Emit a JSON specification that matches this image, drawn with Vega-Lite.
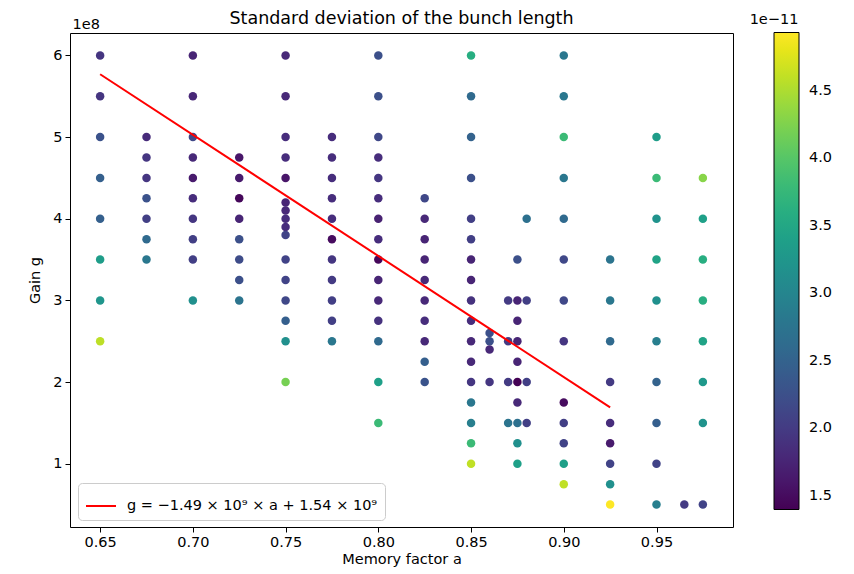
{
  "$schema": "https://vega.github.io/schema/vega-lite/v6.json",
  "width": 663,
  "height": 494,
  "autosize": {"type": "none"},
  "padding": {"left": 70, "top": 33, "right": 121, "bottom": 47},
  "background": "white",
  "title": {
    "text": "Standard deviation of the bunch length",
    "fontSize": 17.5,
    "fontWeight": "normal",
    "color": "black",
    "anchor": "middle",
    "frame": "group",
    "offset": -14
  },
  "config": {
    "font": "DejaVu Sans",
    "view": {"stroke": "black", "strokeWidth": 1},
    "axis": {
      "grid": false,
      "domain": false,
      "tickColor": "black",
      "tickSize": 5,
      "tickWidth": 1,
      "labelColor": "black",
      "labelFontSize": 14.5,
      "labelPadding": 3,
      "titleColor": "black",
      "titleFontSize": 14.5,
      "titleFontWeight": "normal"
    },
    "legend": {
      "labelColor": "black",
      "labelFontSize": 14.5,
      "titleColor": "black",
      "titleFontSize": 14.5,
      "titleFontWeight": "normal"
    }
  },
  "layer": [
    {
      "data": {
        "values": [
          {"a": 0.65, "g": 600000000, "s": 1.93e-11},
          {"a": 0.65, "g": 550000000, "s": 1.93e-11},
          {"a": 0.65, "g": 500000000, "s": 2.28e-11},
          {"a": 0.65, "g": 450000000, "s": 2.46e-11},
          {"a": 0.65, "g": 400000000, "s": 2.46e-11},
          {"a": 0.65, "g": 350000000, "s": 3.35e-11},
          {"a": 0.65, "g": 300000000, "s": 3.25e-11},
          {"a": 0.65, "g": 250000000, "s": 4.58e-11},

          {"a": 0.675, "g": 500000000, "s": 1.82e-11},
          {"a": 0.675, "g": 475000000, "s": 1.95e-11},
          {"a": 0.675, "g": 450000000, "s": 1.95e-11},
          {"a": 0.675, "g": 425000000, "s": 2.28e-11},
          {"a": 0.675, "g": 400000000, "s": 2.05e-11},
          {"a": 0.675, "g": 375000000, "s": 2.6e-11},
          {"a": 0.675, "g": 350000000, "s": 2.8e-11},

          {"a": 0.7, "g": 600000000, "s": 1.75e-11},
          {"a": 0.7, "g": 550000000, "s": 1.78e-11},
          {"a": 0.7, "g": 500000000, "s": 2.15e-11},
          {"a": 0.7, "g": 475000000, "s": 1.8e-11},
          {"a": 0.7, "g": 450000000, "s": 1.65e-11},
          {"a": 0.7, "g": 425000000, "s": 1.85e-11},
          {"a": 0.7, "g": 400000000, "s": 1.95e-11},
          {"a": 0.7, "g": 375000000, "s": 2.05e-11},
          {"a": 0.7, "g": 350000000, "s": 2.05e-11},
          {"a": 0.7, "g": 300000000, "s": 3.15e-11},

          {"a": 0.725, "g": 475000000, "s": 1.6e-11},
          {"a": 0.725, "g": 450000000, "s": 1.65e-11},
          {"a": 0.725, "g": 425000000, "s": 1.45e-11},
          {"a": 0.725, "g": 400000000, "s": 1.75e-11},
          {"a": 0.725, "g": 375000000, "s": 2.25e-11},
          {"a": 0.725, "g": 350000000, "s": 2.2e-11},
          {"a": 0.725, "g": 325000000, "s": 2.25e-11},
          {"a": 0.725, "g": 300000000, "s": 2.75e-11},

          {"a": 0.75, "g": 600000000, "s": 1.8e-11},
          {"a": 0.75, "g": 550000000, "s": 1.8e-11},
          {"a": 0.75, "g": 500000000, "s": 1.85e-11},
          {"a": 0.75, "g": 475000000, "s": 1.85e-11},
          {"a": 0.75, "g": 450000000, "s": 1.6e-11},
          {"a": 0.75, "g": 420000000, "s": 1.75e-11},
          {"a": 0.75, "g": 410000000, "s": 1.8e-11},
          {"a": 0.75, "g": 400000000, "s": 1.85e-11},
          {"a": 0.75, "g": 390000000, "s": 1.85e-11},
          {"a": 0.75, "g": 380000000, "s": 2.1e-11},
          {"a": 0.75, "g": 350000000, "s": 2.1e-11},
          {"a": 0.75, "g": 325000000, "s": 2.1e-11},
          {"a": 0.75, "g": 300000000, "s": 2.15e-11},
          {"a": 0.75, "g": 275000000, "s": 2.45e-11},
          {"a": 0.75, "g": 250000000, "s": 3.15e-11},
          {"a": 0.75, "g": 200000000, "s": 4.2e-11},

          {"a": 0.775, "g": 500000000, "s": 1.85e-11},
          {"a": 0.775, "g": 475000000, "s": 1.85e-11},
          {"a": 0.775, "g": 450000000, "s": 1.85e-11},
          {"a": 0.775, "g": 425000000, "s": 1.85e-11},
          {"a": 0.775, "g": 400000000, "s": 1.85e-11},
          {"a": 0.775, "g": 375000000, "s": 1.5e-11},
          {"a": 0.775, "g": 350000000, "s": 1.95e-11},
          {"a": 0.775, "g": 325000000, "s": 2.0e-11},
          {"a": 0.775, "g": 300000000, "s": 2.05e-11},
          {"a": 0.775, "g": 275000000, "s": 2.05e-11},
          {"a": 0.775, "g": 250000000, "s": 2.8e-11},

          {"a": 0.8, "g": 600000000, "s": 2.25e-11},
          {"a": 0.8, "g": 550000000, "s": 2.25e-11},
          {"a": 0.8, "g": 500000000, "s": 2.15e-11},
          {"a": 0.8, "g": 475000000, "s": 1.85e-11},
          {"a": 0.8, "g": 450000000, "s": 1.95e-11},
          {"a": 0.8, "g": 425000000, "s": 1.85e-11},
          {"a": 0.8, "g": 400000000, "s": 1.72e-11},
          {"a": 0.8, "g": 375000000, "s": 1.85e-11},
          {"a": 0.8, "g": 350000000, "s": 1.45e-11},
          {"a": 0.8, "g": 325000000, "s": 1.75e-11},
          {"a": 0.8, "g": 300000000, "s": 1.8e-11},
          {"a": 0.8, "g": 275000000, "s": 1.9e-11},
          {"a": 0.8, "g": 250000000, "s": 2.6e-11},
          {"a": 0.8, "g": 200000000, "s": 3.4e-11},
          {"a": 0.8, "g": 150000000, "s": 3.8e-11},

          {"a": 0.825, "g": 425000000, "s": 2.15e-11},
          {"a": 0.825, "g": 400000000, "s": 1.8e-11},
          {"a": 0.825, "g": 375000000, "s": 1.75e-11},
          {"a": 0.825, "g": 350000000, "s": 1.75e-11},
          {"a": 0.825, "g": 325000000, "s": 1.8e-11},
          {"a": 0.825, "g": 300000000, "s": 1.8e-11},
          {"a": 0.825, "g": 275000000, "s": 1.85e-11},
          {"a": 0.825, "g": 250000000, "s": 1.8e-11},
          {"a": 0.825, "g": 225000000, "s": 2.45e-11},
          {"a": 0.825, "g": 200000000, "s": 2.3e-11},

          {"a": 0.85, "g": 600000000, "s": 3.6e-11},
          {"a": 0.85, "g": 550000000, "s": 2.6e-11},
          {"a": 0.85, "g": 500000000, "s": 2.5e-11},
          {"a": 0.85, "g": 450000000, "s": 2.25e-11},
          {"a": 0.85, "g": 400000000, "s": 2.05e-11},
          {"a": 0.85, "g": 375000000, "s": 2.05e-11},
          {"a": 0.85, "g": 350000000, "s": 1.75e-11},
          {"a": 0.85, "g": 325000000, "s": 1.75e-11},
          {"a": 0.85, "g": 300000000, "s": 1.9e-11},
          {"a": 0.85, "g": 275000000, "s": 1.85e-11},
          {"a": 0.85, "g": 250000000, "s": 1.8e-11},
          {"a": 0.85, "g": 225000000, "s": 1.8e-11},
          {"a": 0.85, "g": 200000000, "s": 1.95e-11},
          {"a": 0.85, "g": 175000000, "s": 2.8e-11},
          {"a": 0.85, "g": 150000000, "s": 2.9e-11},
          {"a": 0.85, "g": 125000000, "s": 3.8e-11},
          {"a": 0.85, "g": 100000000, "s": 4.6e-11},

          {"a": 0.86, "g": 260000000, "s": 2.25e-11},
          {"a": 0.86, "g": 250000000, "s": 2.25e-11},
          {"a": 0.86, "g": 240000000, "s": 1.8e-11},
          {"a": 0.86, "g": 200000000, "s": 1.95e-11},

          {"a": 0.87, "g": 300000000, "s": 2.0e-11},
          {"a": 0.87, "g": 250000000, "s": 2.0e-11},
          {"a": 0.87, "g": 200000000, "s": 2.0e-11},
          {"a": 0.87, "g": 150000000, "s": 2.75e-11},

          {"a": 0.875, "g": 350000000, "s": 2.25e-11},
          {"a": 0.875, "g": 300000000, "s": 1.75e-11},
          {"a": 0.875, "g": 275000000, "s": 1.75e-11},
          {"a": 0.875, "g": 250000000, "s": 1.75e-11},
          {"a": 0.875, "g": 225000000, "s": 1.75e-11},
          {"a": 0.875, "g": 200000000, "s": 1.4e-11},
          {"a": 0.875, "g": 175000000, "s": 1.8e-11},
          {"a": 0.875, "g": 150000000, "s": 2.7e-11},
          {"a": 0.875, "g": 125000000, "s": 3.15e-11},
          {"a": 0.875, "g": 100000000, "s": 3.4e-11},

          {"a": 0.88, "g": 400000000, "s": 2.7e-11},
          {"a": 0.88, "g": 300000000, "s": 2.05e-11},
          {"a": 0.88, "g": 200000000, "s": 2.05e-11},
          {"a": 0.88, "g": 150000000, "s": 2.05e-11},

          {"a": 0.9, "g": 600000000, "s": 2.8e-11},
          {"a": 0.9, "g": 550000000, "s": 2.8e-11},
          {"a": 0.9, "g": 500000000, "s": 3.8e-11},
          {"a": 0.9, "g": 450000000, "s": 2.8e-11},
          {"a": 0.9, "g": 400000000, "s": 2.6e-11},
          {"a": 0.9, "g": 350000000, "s": 2.15e-11},
          {"a": 0.9, "g": 300000000, "s": 2.15e-11},
          {"a": 0.9, "g": 250000000, "s": 1.95e-11},
          {"a": 0.9, "g": 175000000, "s": 1.5e-11},
          {"a": 0.9, "g": 150000000, "s": 2.05e-11},
          {"a": 0.9, "g": 125000000, "s": 2.1e-11},
          {"a": 0.9, "g": 100000000, "s": 3.4e-11},
          {"a": 0.9, "g": 75000000, "s": 4.6e-11},

          {"a": 0.925, "g": 350000000, "s": 2.75e-11},
          {"a": 0.925, "g": 300000000, "s": 2.8e-11},
          {"a": 0.925, "g": 250000000, "s": 2.6e-11},
          {"a": 0.925, "g": 200000000, "s": 2.0e-11},
          {"a": 0.925, "g": 150000000, "s": 1.85e-11},
          {"a": 0.925, "g": 125000000, "s": 1.65e-11},
          {"a": 0.925, "g": 100000000, "s": 2.1e-11},
          {"a": 0.925, "g": 75000000, "s": 3.15e-11},
          {"a": 0.925, "g": 50000000, "s": 4.93e-11},

          {"a": 0.95, "g": 500000000, "s": 3.35e-11},
          {"a": 0.95, "g": 450000000, "s": 3.8e-11},
          {"a": 0.95, "g": 400000000, "s": 3.2e-11},
          {"a": 0.95, "g": 350000000, "s": 3.45e-11},
          {"a": 0.95, "g": 300000000, "s": 3.15e-11},
          {"a": 0.95, "g": 250000000, "s": 2.9e-11},
          {"a": 0.95, "g": 200000000, "s": 2.5e-11},
          {"a": 0.95, "g": 150000000, "s": 2.45e-11},
          {"a": 0.95, "g": 100000000, "s": 2.1e-11},
          {"a": 0.95, "g": 50000000, "s": 2.9e-11},

          {"a": 0.965, "g": 50000000, "s": 2.0e-11},

          {"a": 0.975, "g": 450000000, "s": 4.3e-11},
          {"a": 0.975, "g": 400000000, "s": 3.4e-11},
          {"a": 0.975, "g": 350000000, "s": 3.6e-11},
          {"a": 0.975, "g": 300000000, "s": 3.6e-11},
          {"a": 0.975, "g": 250000000, "s": 3.45e-11},
          {"a": 0.975, "g": 200000000, "s": 3.3e-11},
          {"a": 0.975, "g": 150000000, "s": 3.2e-11},
          {"a": 0.975, "g": 50000000, "s": 2.1e-11}
        ]
      },
      "mark": {"type": "circle", "size": 72, "opacity": 1},
      "encoding": {
        "x": {
          "field": "a",
          "type": "quantitative",
          "scale": {"domain": [0.63375, 0.99125], "nice": false, "zero": false},
          "axis": {
            "orient": "bottom",
            "title": "Memory factor a",
            "values": [0.65, 0.7, 0.75, 0.8, 0.85, 0.9, 0.95],
            "format": ".2f",
            "titlePadding": 4
          }
        },
        "y": {
          "field": "g",
          "type": "quantitative",
          "scale": {"domain": [22500000, 627500000], "nice": false, "zero": false},
          "axis": {
            "title": "Gain g",
            "values": [100000000, 200000000, 300000000, 400000000, 500000000, 600000000],
            "labelExpr": "format(datum.value / 1e8, 'd')",
            "titlePadding": 10
          }
        },
        "color": {
          "field": "s",
          "type": "quantitative",
          "scale": {"scheme": "viridis", "domain": [1.4e-11, 4.93e-11]},
          "legend": {
            "orient": "none",
            "legendX": 680,
            "legendY": -20,
            "direction": "vertical",
            "title": "1e−11",
            "titleAnchor": "start",
            "titleAlign": "center",
            "titlePadding": 5,
            "gradientLength": 477,
            "gradientThickness": 25,
            "gradientStrokeColor": "black",
            "gradientStrokeWidth": 1,
            "values": [1.5e-11, 2e-11, 2.5e-11, 3e-11, 3.5e-11, 4e-11, 4.5e-11],
            "labelExpr": "format(datum.value * 1e11, '.1f')",
            "labelOffset": 10
          }
        }
      }
    },
    {
      "data": {
        "values": [
          {"a": 0.65, "g": 577000000, "fit": "g = −1.49 × 10⁹ × a + 1.54 × 10⁹"},
          {"a": 0.925, "g": 169000000, "fit": "g = −1.49 × 10⁹ × a + 1.54 × 10⁹"}
        ]
      },
      "mark": {"type": "line", "strokeWidth": 2},
      "encoding": {
        "x": {
          "field": "a",
          "type": "quantitative",
          "axis": {
            "orient": "top",
            "title": "1e8",
            "labels": false,
            "ticks": false,
            "domain": false,
            "titleAnchor": "start",
            "titleAlign": "left",
            "titleBaseline": "alphabetic",
            "titleX": 2,
            "titleY": -5
          }
        },
        "y": {"field": "g", "type": "quantitative"},
        "stroke": {
          "field": "fit",
          "type": "nominal",
          "scale": {"range": ["red"]},
          "legend": {
            "orient": "none",
            "legendX": 8,
            "legendY": 450,
            "title": null,
            "symbolType": "stroke",
            "symbolSize": 900,
            "symbolStrokeWidth": 2,
            "labelOffset": 10,
            "labelLimit": 400,
            "padding": 7,
            "fillColor": "white",
            "strokeColor": "#cccccc",
            "cornerRadius": 4
          }
        }
      }
    }
  ],
  "resolve": {"axis": {"x": "independent"}}
}
